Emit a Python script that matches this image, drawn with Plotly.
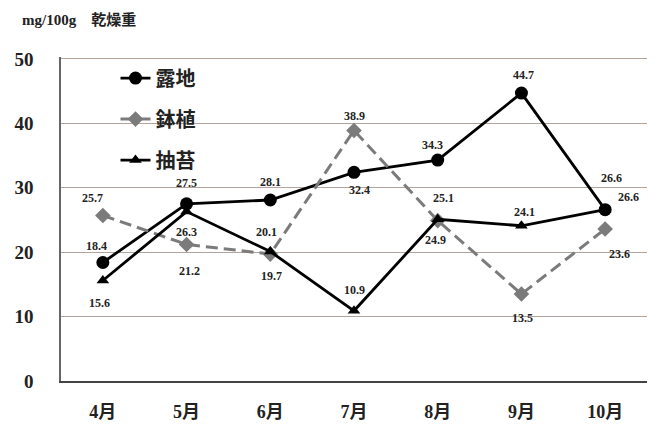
import plotly.graph_objects as go

months = ["4月", "5月", "6月", "7月", "8月", "9月", "10月"]
roji = [18.4, 27.5, 28.1, 32.4, 34.3, 44.7, 26.6]
hachi = [25.7, 21.2, 19.7, 38.9, 24.9, 13.5, 23.6]
chuto = [15.6, 26.3, 20.1, 10.9, 25.1, 24.1, 26.6]
y_ticks = [0, 10, 20, 30, 40, 50]

# label offsets (pixels) for each series' value labels
roji_off = [(-6, 16), (0, 21), (0, 18), (5, -18), (-5, 15), (2, 18), (6, 32)]
hachi_off = [(-10, 17), (3, -27), (1, -22), (0, 14), (-2, -19), (1, -24), (14, -25)]
chuto_off = [(-3, -22), (0, -20), (-4, 20), (0, 21), (6, 21), (3, 14), (23, 13)]

serif = "Liberation Serif, Noto Sans CJK JP, serif"
lab_font = dict(family=serif, size=12, color="#222", weight="bold")

fig = go.Figure()
series = [
    ("露地", roji, roji_off, dict(color="black", width=2.8),
     dict(symbol="circle", size=13, color="black")),
    ("鉢植", hachi, hachi_off, dict(color="#7b7b7b", width=3, dash="12px,6px"),
     dict(symbol="diamond", size=12, color="#7b7b7b")),
    ("抽苔", chuto, chuto_off, dict(color="black", width=2.8),
     dict(symbol="triangle-up", size=11, color="black")),
]
annotations = []
for i, (name, vals, offs, line, marker) in enumerate(series):
    fig.add_trace(go.Scatter(
        x=months, y=vals, name=name, legendgroup=f"g{i}", mode="lines+markers",
        line=line, marker=marker,
    ))
    for m, v, (dx, dy) in zip(months, vals, offs):
        annotations.append(dict(
            x=m, y=v, xref="x", yref="y", text=f"{v:.1f}", showarrow=False,
            xshift=dx, yshift=dy, font=lab_font,
        ))

annotations.append(dict(
    text="<b>mg/100g　乾燥重</b>", xref="paper", yref="paper",
    x=-0.07, y=1.115, xanchor="left", yanchor="middle", showarrow=False,
    font=dict(family=serif, size=15, color="#222"),
))

fig.update_layout(
    width=647, height=414,
    margin=dict(l=53, r=8, t=49, b=41),
    paper_bgcolor="white", plot_bgcolor="white",
    showlegend=True,
    legend=dict(
        x=0.093, y=0.995, xanchor="left", yanchor="top",
        bgcolor="rgba(0,0,0,0)", tracegroupgap=12,
        font=dict(family="Noto Sans CJK JP", size=20, color="#222", weight="bold"),
        traceorder="grouped",
    ),
    annotations=annotations,
)
fig.update_xaxes(
    type="category", range=[-0.5, 6.5], showgrid=False, automargin=False,
    showline=True, linecolor="#444", linewidth=1.5,
    ticks="", ticklabelstandoff=14,
    tickfont=dict(family=serif, size=18, color="#222", weight="bold"),
)
fig.update_yaxes(
    range=[0, 50.3], tickvals=y_ticks, showgrid=True, gridcolor="#b5a39a", gridwidth=1.2,
    showline=True, linecolor="#666", linewidth=1.5, zeroline=False, automargin=False,
    ticks="", ticklabelstandoff=22,
    tickfont=dict(family=serif, size=19, color="#222", weight="bold"),
)

fig.write_html("out.html")
